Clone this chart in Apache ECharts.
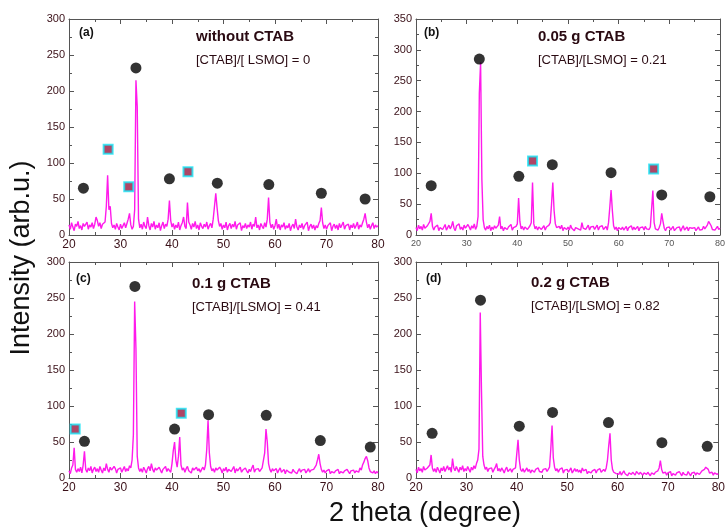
<!DOCTYPE html>
<html>
<head>
<meta charset="utf-8">
<script src="https://cdn.jsdelivr.net/npm/echarts@6/dist/echarts.min.js"></script>
<style>
  html, body { margin: 0; padding: 0; background: #fff; }
  #main { width: 728px; height: 531px; }
</style>
</head>
<body>
<div id="main"></div>
<script>
// 2theta sampling: 20..80 deg, step 0.25
var thetaStart = 20, thetaStep = 0.25;

// intensities (one row = 5 degrees)
var intensityA = [
  14, 8, 17, 11, 6, 15, 12, 19, 9, 13, 7, 16, 12, 10, 18, 8, 14, 11, 17, 9,
  15, 25, 20, 12, 17, 9, 15, 13, 18, 40, 83, 35, 40, 16, 10, 14, 8, 16, 11, 7,
  15, 9, 13, 17, 10, 16, 22, 30, 14, 8, 12, 35, 215, 178, 22, 10, 15, 8, 18, 12,
  9, 25, 13, 7, 16, 11, 19, 8, 14, 10, 17, 6, 13, 18, 9, 15, 12, 22, 48, 20,
  11, 16, 8, 14, 10, 18, 7, 13, 17, 25, 12, 9, 45, 18, 14, 8, 16, 11, 19, 9,
  14, 7, 17, 12, 9, 15, 11, 18, 8, 13, 16, 10, 22, 40, 58, 38, 20, 12, 16, 8,
  14, 10, 18, 7, 13, 16, 9, 15, 11, 19, 8, 14, 12, 17, 6, 13, 10, 16, 9, 14,
  11, 18, 8, 15, 12, 25, 10, 14, 7, 16, 12, 9, 17, 11, 22, 52, 18, 10, 15, 8,
  13, 22, 9, 15, 7, 14, 11, 17, 8, 13, 10, 16, 6, 12, 15, 9, 22, 11, 7, 14,
  10, 16, 8, 13, 11, 18, 6, 12, 15, 9, 14, 7, 13, 10, 16, 20, 38, 17, 9, 14,
  8, 13, 11, 17, 6, 12, 15, 9, 14, 7, 16, 10, 12, 18, 8, 13, 11, 15, 7, 14,
  10, 16, 9, 13, 18, 8, 14, 11, 17, 22, 30, 18, 10, 15, 8, 13, 17, 9, 14, 11,
  13
];
var intensityB = [
  12, 7, 16, 10, 14, 8, 17, 11, 9, 15, 13, 22, 35, 14, 8, 13, 10, 16, 7, 12,
  15, 9, 13, 17, 8, 12, 16, 10, 14, 22, 11, 7, 15, 12, 18, 9, 13, 8, 16, 11,
  10, 17, 13, 8, 15, 11, 18, 9, 14, 30, 230, 280, 90, 25, 12, 8, 14, 10, 16, 7,
  13, 9, 15, 11, 8, 16, 30, 10, 14, 7, 12, 15, 9, 13, 11, 17, 8, 12, 10, 14,
  18, 60, 22, 10, 14, 8, 13, 16, 9, 12, 15, 20, 85, 18, 10, 14, 8, 13, 16, 9,
  12, 15, 8, 13, 11, 16, 20, 50, 85, 40, 18, 12, 9, 14, 10, 16, 7, 12, 15, 9,
  13, 8, 16, 11, 14, 7, 12, 15, 10, 13, 8, 20, 11, 14, 9, 12, 16, 8, 13, 10,
  14, 9, 12, 16, 8, 13, 10, 15, 9, 12, 14, 8, 20, 45, 73, 40, 15, 9, 13, 7,
  12, 15, 9, 13, 8, 11, 14, 7, 12, 10, 15, 8, 13, 9, 11, 14, 7, 12, 10, 13,
  8, 14, 10, 12, 9, 13, 15, 72, 20, 10, 13, 8, 12, 18, 35, 22, 11, 7, 12, 9,
  13, 8, 11, 14, 7, 10, 12, 9, 13, 6, 11, 15, 8, 10, 13, 7, 12, 9, 11, 8,
  12, 7, 10, 13, 8, 11, 9, 14, 10, 12, 16, 22, 25, 15, 9, 12, 8, 11, 14, 9,
  11
];
var intensityC = [
  10, 6, 14, 18, 42, 12, 8, 13, 9, 15, 7, 18, 37, 12, 8, 14, 10, 16, 7, 12,
  15, 9, 13, 8, 16, 11, 7, 14, 10, 20, 12, 8, 15, 11, 9, 16, 13, 7, 12, 10,
  14, 8, 12, 16, 9, 13, 10, 17, 14, 25, 60, 245, 180, 30, 14, 9, 13, 8, 15, 11,
  7, 13, 16, 10, 20, 12, 8, 14, 11, 9, 15, 13, 7, 12, 10, 16, 9, 13, 11, 8,
  20, 38, 50, 25, 15, 30, 57, 18, 11, 14, 8, 13, 16, 10, 12, 7, 14, 11, 9, 15,
  10, 13, 8, 12, 15, 11, 18, 40, 80, 35, 16, 10, 13, 8, 14, 11, 9, 15, 12, 7,
  13, 10, 15, 8, 12, 14, 9, 11, 16, 7, 13, 10, 12, 15, 8, 11, 9, 14, 10, 7,
  12, 9, 14, 18, 8, 12, 10, 13, 9, 11, 14, 16, 35, 68, 50, 20, 12, 8, 13, 10,
  9, 13, 7, 11, 14, 8, 10, 12, 6, 11, 13, 8, 10, 7, 12, 9, 11, 6, 10, 13,
  8, 11, 9, 12, 7, 10, 13, 8, 11, 9, 12, 14, 18, 25, 33, 20, 12, 8, 11, 7,
  10, 8, 12, 6, 9, 11, 7, 10, 8, 12, 6, 9, 11, 7, 10, 8, 12, 9, 6, 10,
  8, 11, 7, 10, 12, 8, 14, 11, 18, 22, 27, 30, 24, 14, 9, 11, 7, 10, 6, 9,
  7
];
var intensityD = [
  12, 7, 15, 10, 13, 8, 16, 11, 9, 14, 12, 18, 32, 14, 9, 13, 8, 15, 11, 7,
  14, 10, 16, 9, 13, 17, 11, 15, 8, 27, 14, 10, 16, 12, 8, 15, 11, 17, 9, 13,
  10, 16, 12, 8, 15, 11, 17, 13, 20, 25, 40, 230, 120, 30, 18, 12, 15, 9, 13, 11,
  14, 8, 12, 15, 20, 10, 13, 9, 14, 11, 7, 12, 15, 9, 11, 13, 8, 12, 10, 14,
  16, 53, 25, 12, 9, 13, 8, 11, 14, 9, 12, 7, 11, 13, 8, 12, 10, 14, 9, 11,
  8, 12, 10, 13, 9, 12, 15, 40, 73, 28, 15, 10, 13, 8, 12, 10, 14, 7, 11, 9,
  12, 8, 11, 14, 7, 10, 13, 9, 12, 8, 11, 7, 14, 10, 8, 12, 6, 9, 11, 7,
  10, 8, 12, 7, 11, 9, 13, 8, 10, 12, 9, 14, 25, 45, 62, 25, 12, 8, 10, 6,
  8, 5, 9, 4, 7, 10, 6, 8, 3, 7, 9, 5, 8, 6, 4, 9, 7, 5, 8, 6,
  4, 7, 9, 5, 8, 6, 3, 7, 9, 5, 8, 6, 10, 14, 24, 12, 7, 5, 8, 4,
  7, 5, 9, 3, 6, 8, 4, 7, 5, 9, 6, 3, 8, 5, 7, 4, 9, 6, 3, 7,
  5, 8, 4, 7, 9, 5, 6, 10, 8, 12, 15, 17, 12, 7, 5, 8, 4, 7, 9, 5,
  6
];

// phase markers [2theta, height]
var circlesA = [[22.8, 65], [33, 232], [39.5, 78], [48.8, 72], [58.8, 70], [69, 58], [77.5, 50]];
var squaresA = [[27.6, 119], [31.6, 67], [43.1, 88]];
var circlesB = [[23, 80], [32.5, 285], [40.3, 95], [46.9, 114], [58.5, 101], [68.5, 65], [78, 62]];
var squaresB = [[43, 120], [66.9, 107]];
var circlesC = [[23, 51], [32.8, 266], [40.5, 68], [47.1, 88], [58.3, 87], [68.8, 52], [78.5, 43]];
var squaresC = [[21.2, 68], [41.8, 90]];
var circlesD = [[23.2, 62], [32.8, 247], [40.5, 72], [47.1, 91], [58.2, 77], [68.8, 49], [77.8, 44]];
var squaresD = [];

var yMax = [300, 350, 300, 300];
var panelTags = ['(a)', '(b)', '(c)', '(d)'];
var panelTitles = ['without CTAB', '0.05 g CTAB', '0.1 g CTAB', '0.2 g CTAB'];
var panelRatios = ['[CTAB]/[ LSMO] = 0', '[CTAB]/[LSMO] = 0.21', '[CTAB]/[LSMO] = 0.41', '[CTAB]/[LSMO] = 0.82'];

function toPairs(arr) {
  var out = [];
  for (var i = 0; i < arr.length; i++) out.push([thetaStart + i * thetaStep, arr[i]]);
  return out;
}

var chart = echarts.init(document.getElementById('main'));
var font = 'Liberation Sans';
var labelColor = '#3a1018';
var axisColor = '#555';

var grids = [
  { left: 69, top: 19, width: 309, height: 216 },
  { left: 416, top: 19, width: 308, height: 216 },
  { left: 69, top: 262, width: 309, height: 216 },
  { left: 416, top: 262, width: 308, height: 216 }
];

var xAxes = [], yAxes = [], series = [], graphics = [];
var lines = [intensityA, intensityB, intensityC, intensityD];
var circles = [circlesA, circlesB, circlesC, circlesD];
var squares = [squaresA, squaresB, squaresC, squaresD];

grids.forEach(function (g, i) {
  var smallX = (i === 1);
  ['bottom', 'top'].forEach(function (pos) {
    xAxes.push({
      type: 'value', gridIndex: i, position: pos, min: 20, max: 80, interval: 10,
      axisLine: { show: true, onZero: false, lineStyle: { color: axisColor, width: 1 } },
      axisTick: { inside: true, length: 5, lineStyle: { color: axisColor } },
      minorTick: { show: true, splitNumber: 2, length: 3, lineStyle: { color: axisColor } },
      splitLine: { show: false },
      axisLabel: {
        show: pos === 'bottom', margin: 4, fontFamily: font,
        fontSize: smallX ? 9 : 12, color: smallX ? '#555' : labelColor
      }
    });
  });
  ['left', 'right'].forEach(function (pos) {
    yAxes.push({
      type: 'value', gridIndex: i, position: pos, min: 0, max: yMax[i], interval: 50,
      axisLine: { show: true, onZero: false, lineStyle: { color: axisColor, width: 1 } },
      axisTick: { inside: true, length: 5, lineStyle: { color: axisColor } },
      minorTick: { show: true, splitNumber: 2, length: 3, lineStyle: { color: axisColor } },
      splitLine: { show: false },
      axisLabel: { show: pos === 'left', margin: 4, fontFamily: font, fontSize: 11, color: labelColor }
    });
  });
  series.push({
    type: 'line', xAxisIndex: 2 * i, yAxisIndex: 2 * i, data: toPairs(lines[i]),
    showSymbol: false, silent: true, z: 2,
    lineStyle: { color: '#ff1aeb', width: 1.4 }
  });
  series.push({
    type: 'scatter', xAxisIndex: 2 * i, yAxisIndex: 2 * i, data: circles[i],
    symbol: 'circle', symbolSize: 11, z: 3,
    itemStyle: { color: '#000' }
  });
  series.push({
    type: 'scatter', xAxisIndex: 2 * i, yAxisIndex: 2 * i, data: squares[i],
    symbol: 'rect', symbolSize: 9, z: 3,
    itemStyle: { color: '#9a1840', borderColor: '#19e3f5', borderWidth: 2 }
  });

  // in-panel annotations
  var tagX = [79, 424, 76, 426][i], tagY = [35, 35, 281, 281][i];
  var txtX = [196, 538, 192, 531][i], titleY = [38, 38, 285, 284][i];
  graphics.push({
    type: 'text', left: tagX, top: tagY - 8,
    style: { text: panelTags[i], font: 'bold 12px "Liberation Sans"', fill: '#111' }
  });
  graphics.push({
    type: 'text', left: txtX, top: titleY - 9,
    style: { text: panelTitles[i], font: 'bold 15px "Liberation Sans"', fill: '#2a0a12' }
  });
  graphics.push({
    type: 'text', left: txtX, top: titleY + 16,
    style: { text: panelRatios[i], font: '13px "Liberation Sans"', fill: '#2a0a12' }
  });
});

graphics.push({
  type: 'text', x: 22, y: 258, rotation: Math.PI / 2,
  style: { text: 'Intensity (arb.u.)', font: '27px "Liberation Sans"', fill: '#111', align: 'center', verticalAlign: 'middle' }
});
graphics.push({
  type: 'text', x: 425, y: 514,
  style: { text: '2 theta (degree)', font: '27px "Liberation Sans"', fill: '#111', align: 'center', verticalAlign: 'middle' }
});

chart.setOption({
  animation: false,
  backgroundColor: '#fff',
  grid: grids,
  xAxis: xAxes,
  yAxis: yAxes,
  series: series,
  graphic: graphics
});
</script>
</body>
</html>
